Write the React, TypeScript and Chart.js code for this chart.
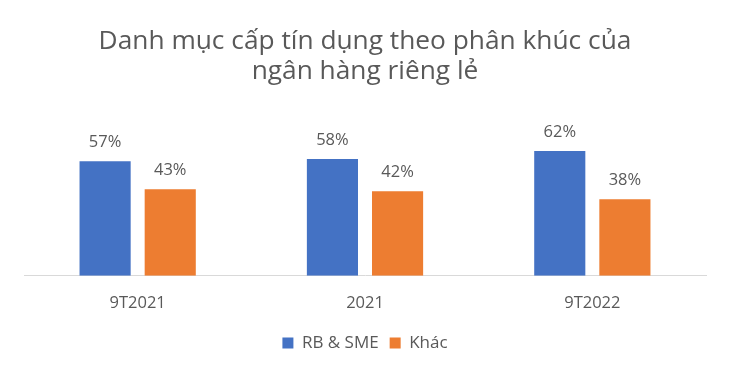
import React, { useEffect, useRef } from "react";
import { Chart, registerables } from "chart.js";

Chart.register(...registerables);

const categories = ["9T2021", "2021", "9T2022"];
const rbSme = [57, 58, 62];
const other = [43, 42, 38];
const seriesNames = ["RB & SME", "Khác"];
const titleLines = ["Danh mục cấp tín dụng theo phân khúc của", "ngân hàng riêng lẻ"];

const FONT = "'Open Sans', 'Noto Sans', sans-serif";
const GREY = "#595959";

const dataLabels = {
  id: "dataLabels",
  afterDatasetsDraw(chart: any) {
    const ctx = chart.ctx;
    ctx.save();
    ctx.font = `16.5px ${FONT}`;
    ctx.fillStyle = GREY;
    ctx.textAlign = "center";
    ctx.textBaseline = "middle";
    chart.data.datasets.forEach((ds: any, i: number) => {
      const meta = chart.getDatasetMeta(i);
      meta.data.forEach((bar: any, j: number) => {
        ctx.fillText(ds.data[j] + "%", bar.x, bar.y - 19);
      });
    });
    ctx.restore();
  },
};

export default function App() {
  const ref = useRef<HTMLCanvasElement>(null);
  useEffect(() => {
    const chart = new Chart(ref.current!, {
      type: "bar",
      data: {
        labels: categories,
        datasets: [
          { label: seriesNames[0], data: rbSme, backgroundColor: "#4472C4" },
          { label: seriesNames[1], data: other, backgroundColor: "#ED7D31" },
        ],
      },
      options: {
        animation: false,
        responsive: false,
        maintainAspectRatio: false,
        layout: { padding: { left: 24, right: 24, top: 0, bottom: 13.5 } },
        datasets: {
          bar: { categoryPercentage: 0.573, barPercentage: 0.785 },
        },
        scales: {
          x: {
            grid: { display: false },
            border: { display: true, color: "#d9d9d9", width: 1 },
            ticks: { color: GREY, font: { family: FONT, size: 16.5 }, padding: 10 },
          },
          y: { display: false, min: 0, max: 70 },
        },
        plugins: {
          title: {
            display: true,
            text: titleLines,
            color: GREY,
            font: { family: FONT, size: 26.3, weight: "normal", lineHeight: "30px" },
            padding: { top: 27, bottom: 48 },
          },
          legend: {
            position: "bottom",
            labels: {
              color: GREY,
              font: { family: FONT, size: 17 },
              boxWidth: 11,
              boxHeight: 11,
              padding: 11,
            },
          },
          tooltip: { enabled: false },
        },
      },
      plugins: [dataLabels],
    });
    return () => chart.destroy();
  }, []);
  return (
    <div style={{ position: "absolute", left: 0, top: 0, width: 730, height: 375, background: "#fff" }}>
      <canvas ref={ref} width={730} height={375} />
    </div>
  );
}
